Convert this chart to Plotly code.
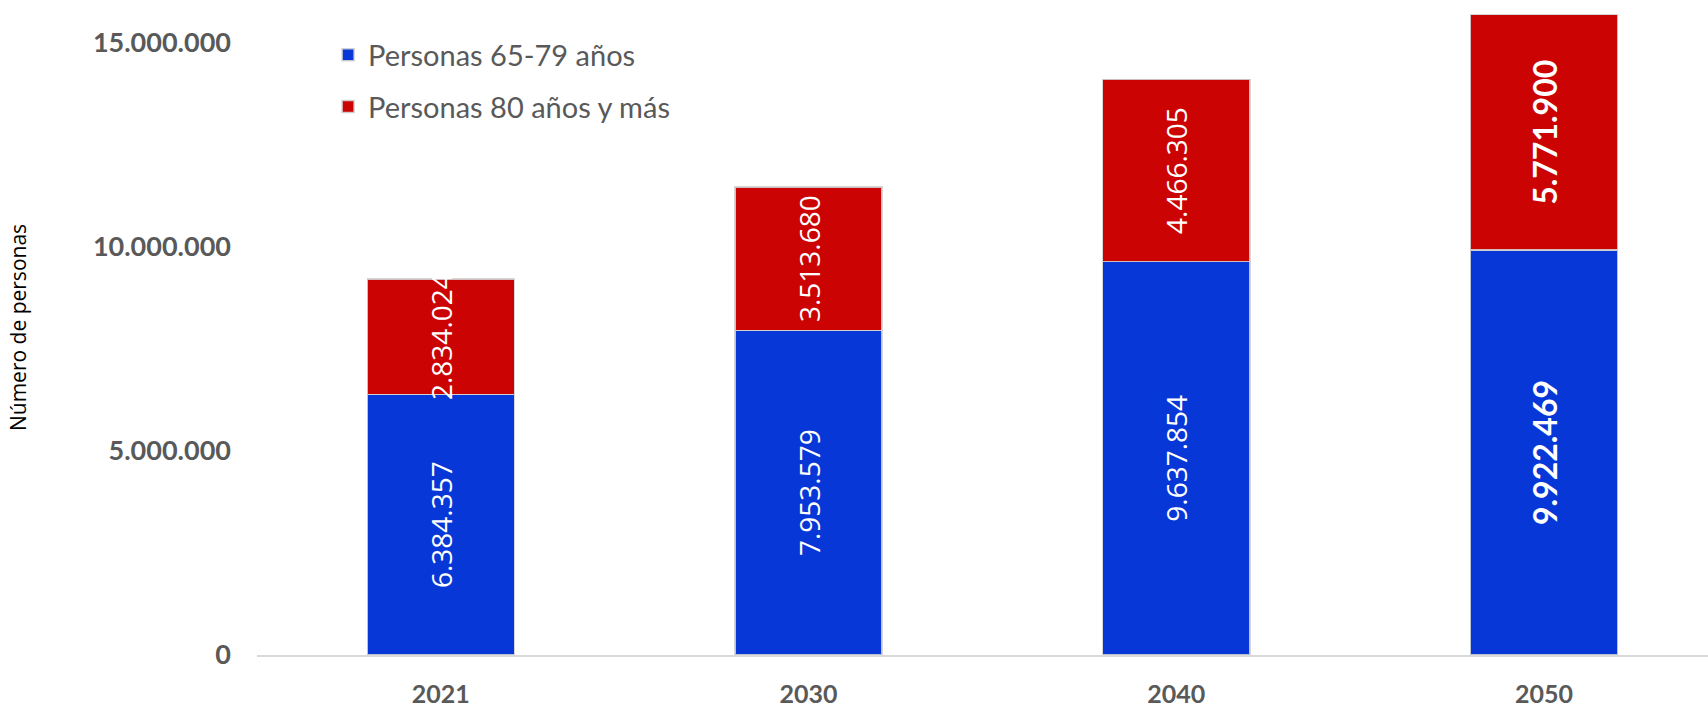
import plotly.graph_objects as go

years = ["2021", "2030", "2040", "2050"]
age_65_79 = [6384357, 7953579, 9637854, 9922469]
age_80_plus = [2834024, 3513680, 4466305, 5771900]
series_names = ["Personas 65-79 años", "Personas 80 años y más"]
y_tick_vals = [0, 5000000, 10000000, 15000000]
y_title = "Número de personas"

def fmt(v):
    return f"{v:,}".replace(",", ".")

def labels(vals):
    out = []
    for i, v in enumerate(vals):
        s = fmt(v)
        if i == len(vals) - 1:
            s = '<span style="font-family:Lato;font-size:32px"><b>' + s + '</b></span>'
        out.append(s)
    return out

fig = go.Figure()
fig.add_trace(go.Bar(
    x=years, y=age_65_79, name=series_names[0], legendgroup="a",
    marker=dict(color="#0837d8", line=dict(color="rgba(210,210,210,0.9)", width=1.5)),
    text=labels(age_65_79), textposition="inside", insidetextanchor="middle",
    textangle=-90, constraintext="none",
    textfont=dict(family="Open Sans", size=28, color="white"),
))
fig.add_trace(go.Bar(
    x=years, y=age_80_plus, name=series_names[1], legendgroup="b",
    marker=dict(color="#cc0303", line=dict(color="rgba(210,210,210,0.9)", width=1.5)),
    text=labels(age_80_plus), textposition="inside", insidetextanchor="middle",
    textangle=-90, constraintext="none",
    textfont=dict(family="Open Sans", size=28, color="white"),
))

fig.update_layout(
    width=1708, height=708,
    barmode="stack", bargap=0.6,
    separators=",.",
    plot_bgcolor="white", paper_bgcolor="white",
    margin=dict(l=257, r=0, t=0, b=50),
    showlegend=True,
    legend=dict(
        x=0.049, y=0.955, xanchor="left", yanchor="top",
        traceorder="grouped", tracegroupgap=11,
        font=dict(family="Lato", size=29, color="#595959"),
        bgcolor="rgba(0,0,0,0)", itemwidth=30,
    ),
)
fig.update_xaxes(
    range=[-0.5, 3.446],
    showline=True, linecolor="#d9d9d9", linewidth=2,
    showgrid=False, ticks="",
    ticklabelstandoff=16,
    tickfont=dict(family="Lato", size=25, color="#595959", weight="bold"),
)
fig.update_yaxes(
    range=[0, 16050000],
    tickvals=y_tick_vals, tickformat=",d",
    showgrid=False, zeroline=False, showline=False, ticks="",
    ticklabelstandoff=25,
    tickfont=dict(family="Lato", size=27, color="#595959", weight="bold"),
    title=dict(text=y_title, font=dict(family="Open Sans", size=21, color="black"), standoff=60),
)

fig.write_html("out.html", config={"displayModeBar": False},
               post_script="document.body.style.margin='0';")
